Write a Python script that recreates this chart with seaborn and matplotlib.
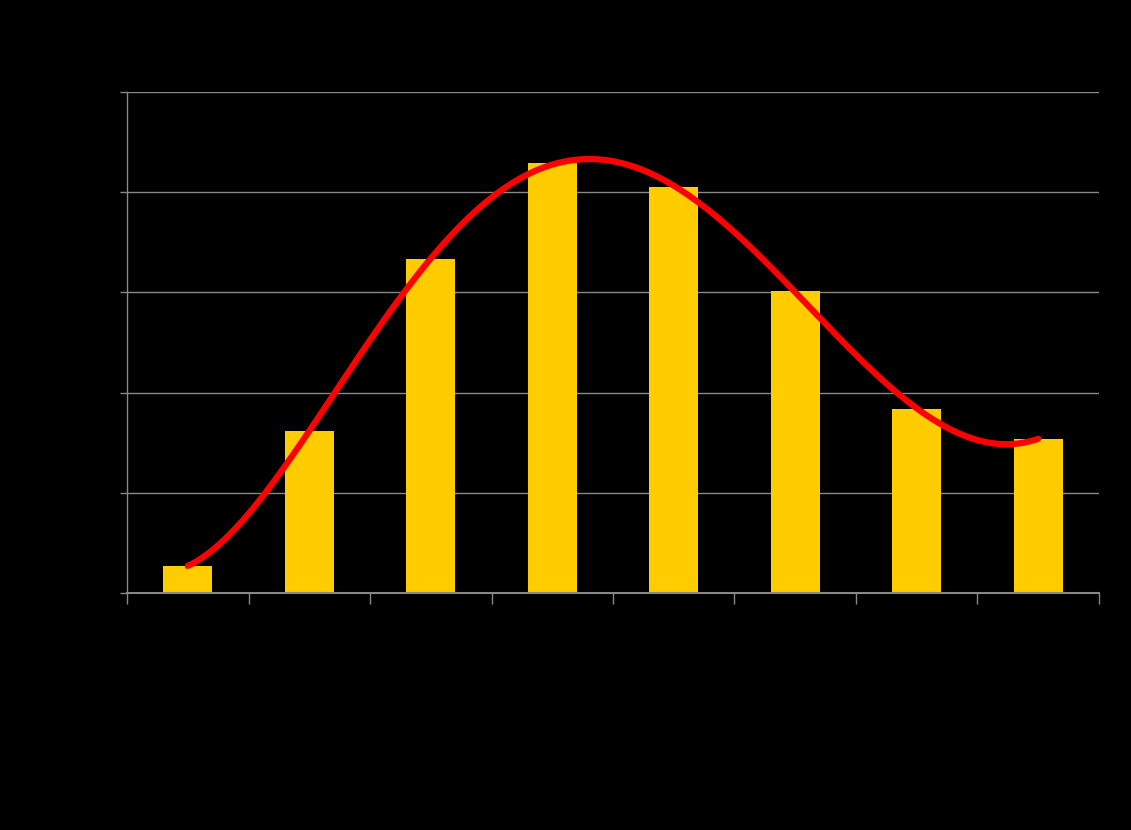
import numpy as np
import pandas as pd
import matplotlib
matplotlib.use('Agg')
import matplotlib.pyplot as plt
import seaborn as sns

# bar values (gridline step = 1)
categories = ['1', '2', '3', '4', '5', '6', '7', '8']
values = [0.27, 1.62, 3.33, 4.29, 4.05, 3.01, 1.84, 1.54]
y_ticks = [0, 1, 2, 3, 4, 5]

BAR = '#FFCC00'
CURVE = '#FF0000'
GRID = '#888888'

sns.set_style('dark')
fig = plt.figure(figsize=(11.31, 8.30), dpi=100, facecolor='black')
ax = fig.add_axes([0.1123, 0.2855, 0.8594, 0.6037])
ax.set_facecolor('black')

df = pd.DataFrame({'cat': categories, 'val': values})
sns.barplot(data=df, x='cat', y='val', color=BAR, width=0.4,
            saturation=1, linewidth=0, edgecolor='none', ax=ax, zorder=2)

# polynomial trendline fitted to the bars
xpos = np.arange(len(values))
coef = np.polyfit(xpos, values, 6)
xs = np.linspace(0, len(values) - 1, 300)
trend = pd.DataFrame({'x': xs, 'y': np.polyval(coef, xs)})
sns.lineplot(data=trend, x='x', y='y', color=CURVE, linewidth=4.5,
             ax=ax, zorder=3)

ax.set_xlim(-0.5, len(values) - 0.5)
ax.set_ylim(y_ticks[0], y_ticks[-1])
ax.set_yticks(y_ticks)
ax.set_xticks(np.arange(-0.5, len(values)))
ax.set_xticklabels([])
ax.set_yticklabels([])
ax.set_xlabel('')
ax.set_ylabel('')

ax.grid(axis='y', color=GRID, linewidth=1, zorder=0)
ax.grid(axis='x', visible=False)
ax.set_axisbelow(True)
for side in ['top', 'right']:
    ax.spines[side].set_visible(False)
ax.spines['left'].set_color(GRID)
ax.spines['left'].set_linewidth(1)
ax.spines['bottom'].set_color(GRID)
ax.spines['bottom'].set_linewidth(1.5)
ax.spines['bottom'].set_zorder(4)
ax.tick_params(axis='y', direction='out', length=5, width=1, color=GRID, left=True)
ax.tick_params(axis='x', direction='out', length=8, width=1, color=GRID, bottom=True)

fig.savefig('out.png', dpi=100, facecolor='black')
